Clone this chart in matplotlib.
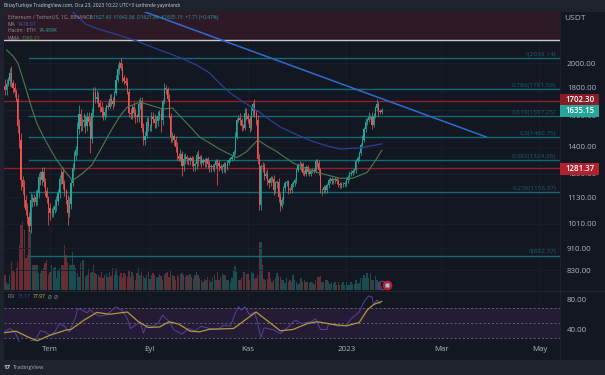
import matplotlib
matplotlib.use("Agg")
import matplotlib.pyplot as plt
import matplotlib.dates as mdates
from matplotlib.patches import Rectangle
from matplotlib.ticker import NullLocator, FixedLocator, FixedFormatter
import numpy as np
import pandas as pd

plt.rcParams['font.family'] = ['Open Sans', 'DejaVu Sans']

W, H = 605, 375
first_day = "2022-06-02"

closes = [
 1815,1780,1830,1850,1920,1840,1800,1770,1720,1530,
 1440,1215,1180,1120,1070,1040,1000,1120,1125,1110,
 1130,1150,1230,1215,1260,1205,1160,1125,1080,1060,
 1060,1070,1090,1115,1150,1220,1260,1195,1160,1120,
 1060,1100,1200,1280,1350,1380,1510,1610,1530,1555,
 1570,1530,1590,1560,1450,1620,1770,1720,1730,1690,
 1660,1625,1600,1625,1665,1660,1720,1700,1680,1760,
 1860,1950,2000,1960,1880,1850,1840,1770,1620,1610,
 1660,1620,1595,1590,1680,1700,1520,1440,1470,1560,
 1530,1530,1590,1580,1550,1565,1600,1620,1570,1700,
 1800,1790,1720,1600,1460,1465,1440,1400,1350,1330,
 1360,1290,1330,1340,1330,1325,1335,1320,1290,1300,
 1355,1330,1340,1310,1325,1315,1330,1305,1285,1290,
 1285,1295,1320,1310,1290,1280,1285,1300,1280,1310,
 1325,1330,1340,1370,1460,1570,1585,1570,1530,1520,
 1620,1600,1580,1520,1630,1680,1620,1570,1330,1095,
 1290,1285,1240,1250,1215,1200,1225,1220,1165,1200,
 1205,1130,1090,1120,1175,1200,1205,1170,1165,1195,
 1200,1215,1270,1295,1290,1300,1255,1250,1285,1260,
 1250,1265,1270,1265,1320,1310,1270,1165,1165,1180,
 1165,1190,1215,1220,1210,1215,1220,1210,1195,1190,
 1195,1195,1200,1215,1230,1250,1255,1265,1268,1320,
 1335,1365,1410,1445,1510,1555,1570,1590,1590,1540,
 1600,1650,1680,1630,1627,1635]
first_open = 1790

upper_wick_pct = [
 2,3,2,2,2,3,1,2,1,2,
 3,3,2,3,2,3,2,3,2,2,
 3,2,2,3,2,2,2,2,1,2,
 2,2,3,2,2,2,1,2,2,1,
 2,3,2,2,2,2,3,4,2,2,
 3,2,2,2,2,2,2,2,3,2,
 1,2,2,2,1,2,2,2,2,1,
 2,2,1,2,2,1,2,2,1,2,
 1,2,2,1,2,2,2,2,2,2,
 2,1,2,2,2,2,2,1,2,1,
 2,1,1,2,1,2,1,2,2,1,
 2,1,2,2,1,1,1,1,2,1,
 1,2,1,1,1,1,1,1,1,1,
 1,1,1,1,1,1,1,1,1,1,
 1,1,1,1,2,1,1,2,1,1,
 2,2,1,1,2,1,2,1,2,2,
 1,2,2,1,2,1,1,1,2,1,
 1,2,2,1,1,1,1,1,1,1,
 1,1,1,1,2,1,1,1,1,1,
 1,1,1,1,1,1,1,1,1,1,
 1,1,1,1,1,1,1,1,1,1,
 1,1,1,1,1,1,1,1,1,1,
 1,1,1,2,1,2,1,2,1,2,
 1,1,2,1,1,1]
lower_wick_pct = [
 2,2,2,1,2,2,2,2,1,3,
 3,4,3,3,2,3,2,3,3,2,
 2,3,2,2,2,2,2,2,7,3,
 2,2,1,2,2,2,2,2,2,2,
 5,2,2,1,1,2,2,2,2,2,
 2,3,2,2,6,2,2,2,2,2,
 2,2,2,2,2,1,1,2,2,1,
 1,1,2,1,2,1,1,1,2,2,
 2,2,3,2,2,2,2,2,2,1,
 2,2,2,2,2,2,2,2,5,2,
 1,2,1,1,2,2,2,2,2,1,
 1,4,2,2,2,2,2,2,2,2,
 2,3,2,2,1,2,2,2,2,2,
 1,2,1,9,2,1,2,2,2,1,
 1,1,1,1,1,1,1,2,2,1,
 1,2,2,2,1,2,2,2,2,2,
 2,2,2,1,2,2,1,1,2,1,
 2,2,2,1,2,1,1,2,1,1,
 1,1,1,1,1,2,1,1,1,1,
 1,1,1,1,1,2,2,1,2,1,
 1,1,1,1,1,1,1,1,1,1,
 1,1,1,1,1,1,1,1,1,1,
 1,1,1,1,1,1,1,1,1,2,
 1,1,1,2,1,1]
volumes_k = [
 300,300,160,120,300,560,400,360,440,560,
 900,1300,1360,1200,640,700,1300,1200,500,500,
 500,500,340,340,400,440,540,600,300,360,
 500,440,460,240,400,440,500,500,900,700,
 540,500,500,760,500,440,340,260,540,600,
 600,260,300,420,340,360,500,340,320,300,
 260,360,240,300,340,260,360,280,440,300,
 420,300,280,340,240,340,300,260,400,260,
 360,280,200,340,440,300,360,280,240,300,
 360,220,300,340,300,240,260,320,280,200,
 300,340,360,260,380,300,280,200,300,260,
 320,340,300,260,300,280,320,260,220,300,
 360,300,240,200,160,220,200,260,200,160,
 240,300,200,360,200,260,340,300,300,200,
 200,160,240,400,480,360,200,200,240,360,
 360,320,320,200,360,340,220,240,300,960,
 960,500,220,200,220,360,240,160,200,240,
 340,280,260,200,200,140,240,160,200,160,
 300,200,160,120,140,240,160,200,160,160,
 140,160,160,120,200,260,260,280,160,160,
 200,200,160,120,160,140,160,100,160,100,
 120,160,100,160,100,100,160,120,120,200,
 120,140,240,240,300,240,340,240,340,200,
 200,280,200,160,140,80]

fib_prices = [2039.14, 1791.59, 1597.25, 1460.75, 1324.26, 1155.37, 882.37]
fib_labels = ["1(2039.14)", "0.786(1791.59)", "0.618(1597.25)", "0.5(1460.75)",
              "0.382(1324.26)", "0.236(1155.37)", "0(882.37)"]
red_levels = [1702.30, 1281.37]
last_price = 1635.15
top_band_price = 2205

trend_dates = ["2022-08-29", "2023-03-29"]
trend_prices = [2484, 1460.75]

ma_dates = ["2022-07-15","2022-07-23","2022-07-30","2022-08-09","2022-08-24","2022-09-07","2022-09-20","2022-09-30","2022-10-08",
            "2022-10-14","2022-10-21","2022-10-30","2022-11-08","2022-11-14","2022-11-21","2022-11-29","2022-12-09",
            "2022-12-18","2022-12-28","2023-01-10","2023-01-23"]
ma_values = [2484,2360,2315,2270,2195,2114,2045,1983,1918,1840,1760,1688,1624,1575,1524,1485,1442,1412,1388,1395,1418.91]

wma_dates = ["2022-06-04","2022-06-08","2022-06-11","2022-06-15","2022-06-20","2022-06-23","2022-06-27","2022-07-01","2022-07-05",
             "2022-07-10","2022-07-15","2022-07-21","2022-07-27","2022-08-02","2022-08-07","2022-08-13","2022-08-18","2022-08-26",
             "2022-09-01","2022-09-09","2022-09-15","2022-09-22","2022-09-27","2022-10-02","2022-10-08","2022-10-13",
             "2022-10-19","2022-10-25","2022-10-31","2022-11-07","2022-11-13","2022-11-19","2022-11-29","2022-12-08","2022-12-16",
             "2022-12-28","2023-01-05","2023-01-14","2023-01-19","2023-01-23"]
wma_values = [2114,2060,2000,1837,1638,1545,1460,1390,1327,1265,1215,1250,1297,1395,1485,1590,1659,1694,
              1673,1645,1652,1571,1515,1460,1425,1395,1365,1338,1372,1442,1405,1372,1308,1275,1252,
              1226,1226,1257,1320,1380.21]

rsi_days = [-28,-25,-22,-19,-15,-12,-9,-6,-3,0,3,6,9,12,16,17,20,23,25,28,31,35,38,41,45,48,50,53,
            56,58,60,64,67,70,74,77,82,86,90,94,99,104,108,112,115,117,119,121,124,127,129,131,133,
            139,143,147,151,153,156,162,165,168,172,173,179,184,187,192,195,198,200,201,203,205]
rsi_values = [38,42,38,24,np.nan,26,26.5,39,37.5,33,37.6,48.7,45,37.5,57.5,68.7,66.5,63,67,61,58.5,60,
              65.5,71,65.5,55.3,42,46.5,51,36,46.5,45,48.7,60,51,40,34.5,42,39,45,42,40.7,46.5,45,
              62,71,66.5,71,60,64,48.7,30,43,40,35.3,42,51,53,48.7,51,55,40.7,40.7,48.7,45,46.5,55,
              64,77.5,85.5,84,73,80,75.17]
rsi_ma_days = [-29,-21,-14,-8,0,10,13,21,29,37,48,55,61,68,74,80,87,93,99,114,128,143,151,160,166,
               176,184,192,197,201,206]
rsi_ma_values = [36.2,38.4,31,25.6,33,40,40.7,53,63.4,61,64,51,43.4,44,51,47.8,38.5,37.6,41,42,64,
                 39,40.7,48.7,51,47.4,45.5,50,66.5,74,77.97]

price_ticks = [2000, 1800, 1600, 1400, 1250, 1130, 1010, 910, 830]
rsi_ticks = [80, 40]
date_ticks = ["2022-07-01", "2022-09-01", "2022-11-01", "2023-01-01", "2023-03-01", "2023-05-01"]
date_labels = ["Tem", "Eyl", "Kas", "2023", "Mar", "May"]

BG = "#131722"; FRAME = "#1e222d"; GRID = "#1b1f2b"
UP = "#26a69a"; DOWN = "#ef5350"; AXTXT = "#b2b5be"; FIB = "#0f6b73"; FIBTXT = "#1d5f68"


def fx(p): return p / W
def fy(p): return 1 - p / H


fig = plt.figure(figsize=(W / 100, H / 100), dpi=100, facecolor=FRAME)
fig.add_artist(Rectangle((fx(4), fy(360)), (W - 4) / W, 348 / H, transform=fig.transFigure,
                         facecolor=BG, edgecolor="none", zorder=-5))

ax_vol = fig.add_axes([fx(4), fy(290), 556 / W, 278 / H], zorder=1)
ax = fig.add_axes([fx(4), fy(290), 556 / W, 278 / H], zorder=2, sharex=ax_vol)
ax_rsi = fig.add_axes([fx(4), fy(342), 556 / W, 51 / H], zorder=2, sharex=ax_vol)
for a in (ax, ax_rsi, ax_vol):
    a.patch.set_visible(False)
    for s in a.spines.values():
        s.set_visible(False)

dates = pd.date_range(first_day, periods=len(closes), freq="D")
xs = mdates.date2num(dates)
closes_a = np.array(closes, float)
opens_a = np.r_[first_open, closes_a[:-1]]
tops = np.maximum(opens_a, closes_a)
bots = np.minimum(opens_a, closes_a)
highs = tops * (1 + np.array(upper_wick_pct) / 100)
lows = bots * (1 - np.array(lower_wick_pct) / 100)
colors = [UP if c >= o else DOWN for o, c in zip(opens_a, closes_a)]

x0 = mdates.date2num(pd.Timestamp("2022-07-01"))
xlim = (x0 + (4 - 50) / 1.61, x0 + (560 - 50) / 1.61)
tick_nums = mdates.date2num(pd.to_datetime(date_ticks))

# volume
ax_vol.set_ylim(0, 278 * 20)
ax_vol.bar(xs, volumes_k, width=0.85, color=colors, alpha=0.38, linewidth=0, zorder=2)
ax_vol.set_xlim(*xlim)
ax_vol.tick_params(left=False, bottom=False, labelleft=False, labelbottom=False)
ax_vol.yaxis.set_major_locator(NullLocator())
for t_ in tick_nums:
    ax_vol.axvline(t_, color=GRID, lw=0.6, zorder=0)

# price
ax.set_yscale("log")
ax.set_ylim(2000 * np.exp(-227 / 235.5), 2000 * np.exp(51 / 235.5))
ax.yaxis.tick_right()
ax.yaxis.set_minor_locator(NullLocator())
ax.yaxis.set_major_locator(FixedLocator(price_ticks))
ax.yaxis.set_major_formatter(FixedFormatter([f"{p:.2f}" for p in price_ticks]))
ax.tick_params(axis="y", length=0, pad=5, labelsize=5.7, labelcolor=AXTXT)
ax.tick_params(axis="x", bottom=False, labelbottom=False)
for p in price_ticks:
    ax.axhline(p, color=GRID, lw=0.6, zorder=0)
ax.axhspan(top_band_price, ax.get_ylim()[1], color="#2e1a26", lw=0, zorder=0.5)
ax.axhline(top_band_price, color="#c9c9c9", lw=1.0, zorder=1)
xstart = x0 + (29 - 50) / 1.61
for p, lab in zip(fib_prices, fib_labels):
    ax.plot([xstart, xlim[1]], [p, p], color=FIB, lw=1.0, zorder=1.5)
    ax.text(x0 + (556 - 50) / 1.61, p * 1.006, lab, color=FIBTXT, fontsize=4.6, ha="right", va="bottom", zorder=6)
for p in red_levels:
    ax.axhline(p, color="#8d1f28", lw=1.0, zorder=1.5)
ax.axhline(last_price, color=UP, lw=0.4, ls=(0, (1, 2)), alpha=0.6, zorder=1.4)

ax.vlines(xs, lows, highs, colors=colors, lw=0.55, zorder=3)
ax.bar(xs, tops - bots, bottom=bots, width=0.72, color=colors, linewidth=0, zorder=3.2)

ax.plot(pd.to_datetime(ma_dates), ma_values, color="#2b3f93", lw=0.9, zorder=4)
ax.plot(pd.to_datetime(wma_dates), wma_values, color="#4d7a50", lw=0.8, zorder=4)
ax.plot(pd.to_datetime(trend_dates), trend_prices, color="#2f6bd1", lw=1.1, zorder=5)
ax.set_xlim(*xlim)

# RSI
ax_rsi.set_ylim(92 - 51 / 0.75, 92)
ax_rsi.axhspan(30, 70, color="#241c35", lw=0, zorder=0.5)
for lvl in (70, 50, 30):
    ax_rsi.axhline(lvl, color="#7a7b85", lw=0.5, ls=(0, (3, 3)), zorder=1)
ax_rsi.plot(x0 + np.array(rsi_days), rsi_values, color="#5b3fa0", lw=0.7, zorder=3)
ax_rsi.plot(x0 + np.array(rsi_ma_days), rsi_ma_values, color="#b09a3e", lw=0.9, zorder=4)
ax_rsi.yaxis.tick_right()
ax_rsi.set_yticks(rsi_ticks, [f"{v:.2f}" for v in rsi_ticks])
ax_rsi.set_xticks(tick_nums, date_labels)
ax_rsi.tick_params(axis="y", length=0, pad=5, labelsize=5.7, labelcolor=AXTXT)
ax_rsi.tick_params(axis="x", length=0, pad=3, labelsize=5.7, labelcolor=AXTXT)
for t_ in tick_nums:
    ax_rsi.axvline(t_, color=GRID, lw=0.6, zorder=0)
ax_rsi.set_xlim(*xlim)

# earnings markers
ax_vol.plot([x0 + 206], [110], "o", ms=6, mfc="none", mec="#5c3a9e", mew=0.9, zorder=6, clip_on=False)
ax_vol.plot([x0 + 209.5], [110], "o", ms=7, mfc="#b8202c", mec="none", zorder=7)
ax_vol.plot([x0 + 209.5], [110], "s", ms=3.2, mfc="#8fc6f5", mec="none", zorder=8)

# separators
fig.add_artist(plt.Line2D([fx(4), fx(605)], [fy(290.5)] * 2, color="#252934", lw=0.6))
fig.add_artist(plt.Line2D([fx(560), fx(560)], [fy(12), fy(360)], color="#1f2330", lw=0.6))


def t(x, y, s, color, size=3.6, **kw):
    fig.text(fx(x), fy(y), s, color=color, fontsize=size, va="center", zorder=20, **kw)


t(4, 6, "BitayTurkiye TradingView.com, Oca 23, 2023 10:22 UTC+3 tarihinde yayınlandı", "#d1d4dc", 3.55)
t(8, 17.5, "Ethereum / TetherUS, 1G, BINANCE", "#8f929c", 3.7)
t(90, 17.5, "A1627.43  Y1642.58  D1621.86  K1635.15  +7.71 (+0.47%)", "#26a69a", 3.5)
t(8, 24.5, "MA", "#8f929c")
t(18, 24.5, "1418.91", "#2f5fd0")
t(8, 31, "Hacim · ETH", "#8f929c")
t(39, 31, "74.499K", "#26a69a")
t(8, 38, "WMA", "#8f929c")
t(22, 38, "1380.21", "#4d8a50")
t(8, 297, "RSI", "#8f929c", 3.6)
t(18, 297, "75.17", "#5b3fa0", 3.6)
t(33, 297, "77.97", "#d8c83c", 3.6)
t(48, 297, "Ø  Ø", "#8f929c", 3.6)
t(564, 19, "USDT", AXTXT, 6)

for yp, s, c, y0, y1 in [(99.5, "1702.30", "#8a1c25", 93.5, 105), (110.8, "1635.15", "#26a69a", 105, 116.5),
                         (168.5, "1281.37", "#b2222d", 163, 174.5)]:
    fig.add_artist(Rectangle((fx(560), fy(y1)), 39 / W, (y1 - y0) / H, transform=fig.transFigure,
                             facecolor=c, edgecolor="none", zorder=15))
    fig.text(fx(579.5), fy(yp), s, color="white", fontsize=5.7, fontweight="semibold",
             ha="center", va="center", zorder=20)

t(4, 367.5, "17", "#d1d4dc", 4.5, fontweight="bold")
t(13, 367.5, "TradingView", "#a9acb5", 4.0)

fig.savefig("out.png", dpi=100, facecolor=FRAME)
